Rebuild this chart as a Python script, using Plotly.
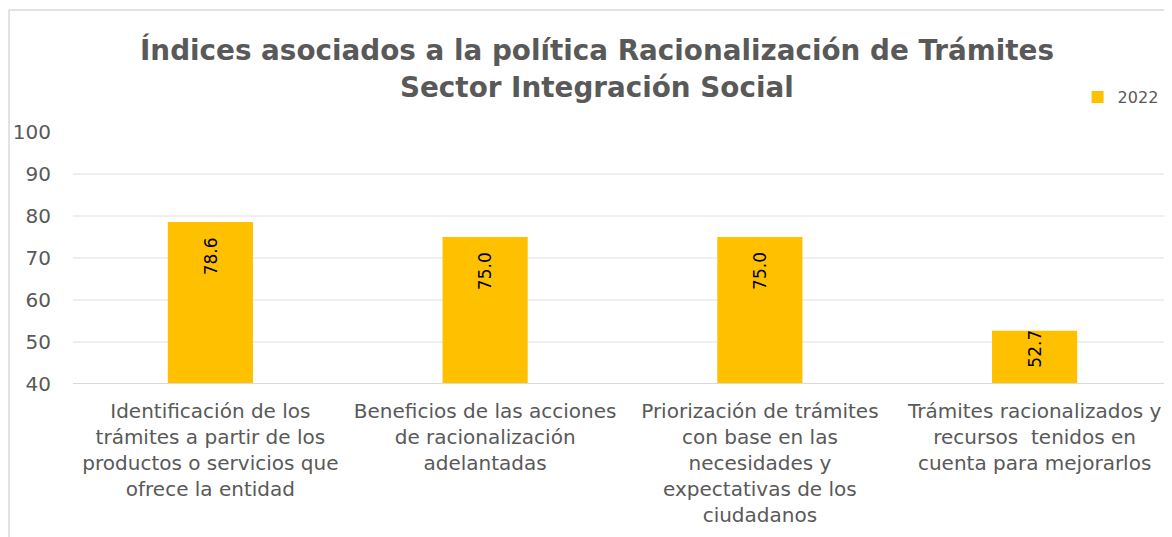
import plotly.graph_objects as go

categories = [
    "Identificación de los<br>trámites a partir de los<br>productos o servicios que<br>ofrece la entidad",
    "Beneficios de las acciones<br>de racionalización<br>adelantadas",
    "Priorización de trámites<br>con base en las<br>necesidades y<br>expectativas de los<br>ciudadanos",
    "Trámites racionalizados y<br>recursos  tenidos en<br>cuenta para mejorarlos",
]
values_2022 = [78.6, 75.0, 75.0, 52.7]
series_name = "2022"
y_ticks = [40, 50, 60, 70, 80, 90, 100]
title_lines = ["Índices asociados a la política Racionalización de Trámites",
               "Sector Integración Social"]

FONT = "DejaVu Sans"
GREY = "#595959"

# page body adds an 8px offset; coordinates below are reference pixels
OFF = 8
W, H = 1172, 537
L, T = 72.5 - OFF, 132 - OFF
R = W - (1172.5 - OFF)
B = H - (384 - OFF)
pw, ph = W - L - R, H - T - B
Y0, Y1 = 40, 100
ppu = ph / (Y1 - Y0)


def px_x(x):
    return (x - OFF - L) / pw


def px_y(y):
    return (H - B - (y - OFF)) / ph


fig = go.Figure()
fig.add_trace(go.Bar(
    x=categories, y=values_2022, name=series_name,
    marker=dict(color="#FFC000", line=dict(width=0)),
    width=0.31,
    showlegend=True,
))

annotations = []
for c, v in zip(categories, values_2022):
    # inside end, but keep label clear of the axis on short bars
    shift = min(13, (v - Y0) * ppu - 56)
    annotations.append(dict(
        x=c, y=v, xref="x", yref="y", text=f"{v:.1f}", showarrow=False,
        textangle=-90, yanchor="top", xanchor="center", yshift=-shift,
        font=dict(family=FONT, size=17, color="#000000"),
    ))
for line, yc in zip(title_lines, [50, 88]):
    annotations.append(dict(
        x=px_x(597), y=px_y(yc), xref="paper", yref="paper",
        text=f"<b>{line}</b>", showarrow=False,
        xanchor="center", yanchor="middle",
        font=dict(family=FONT, size=27.8, color=GREY),
    ))

fig.update_layout(
    width=W, height=H,
    margin=dict(l=L, r=R, t=T, b=B, autoexpand=False),
    paper_bgcolor="white", plot_bgcolor="white",
    font=dict(family=FONT, color=GREY),
    xaxis=dict(
        tickfont=dict(family=FONT, size=20, color=GREY),
        showgrid=False, showline=False, ticks="", ticklabelstandoff=13,
    ),
    yaxis=dict(
        range=[Y0, Y1], tickvals=y_ticks,
        tickfont=dict(family=FONT, size=20, color=GREY),
        showgrid=True, gridcolor="#EFEFEF", gridwidth=1.5,
        zeroline=False, showline=False, ticks="", ticklabelstandoff=21,
    ),
    legend=dict(
        x=px_x(1078), y=px_y(80), xanchor="left", yanchor="top",
        font=dict(family=FONT, size=16, color=GREY),
        itemwidth=30, bgcolor="rgba(0,0,0,0)",
    ),
    annotations=annotations,
    shapes=[
        dict(type="line", xref="paper", yref="y", x0=0, x1=1, y0=Y0, y1=Y0,
             line=dict(color="#D9D9D9", width=2)),
        dict(type="line", xref="paper", yref="paper",
             x0=px_x(8.5), x1=px_x(8.5), y0=px_y(10), y1=px_y(H + 20),
             line=dict(color="#D9D9D9", width=1.5)),
        dict(type="line", xref="paper", yref="paper",
             x0=px_x(8), x1=px_x(W + 20), y0=px_y(10), y1=px_y(10),
             line=dict(color="#D9D9D9", width=1.5)),
    ],
)

fig.write_html("out.html")
